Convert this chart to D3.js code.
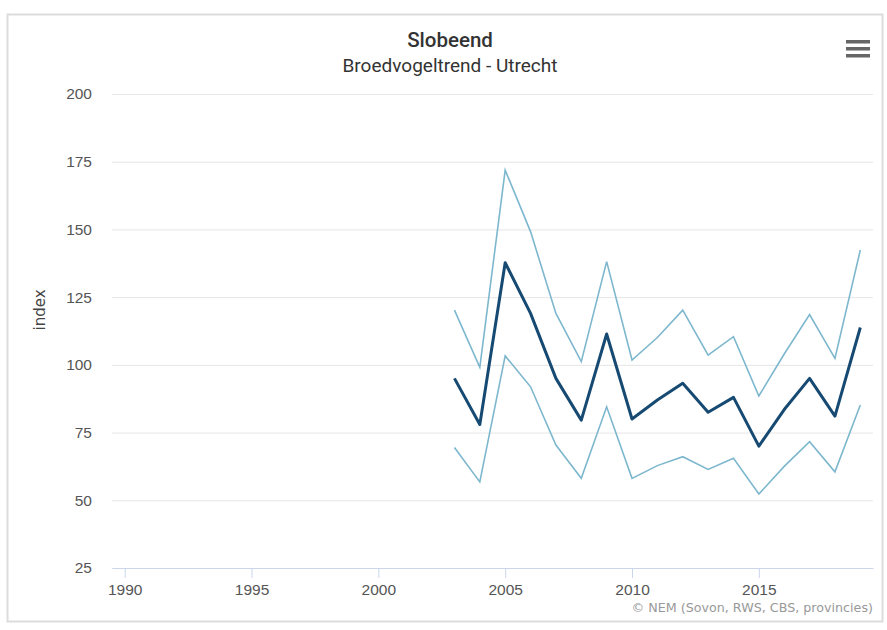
<!DOCTYPE html>
<html>
<head>
<meta charset="utf-8">
<script src="https://cdn.jsdelivr.net/npm/d3@7"></script>
<style>
  body { margin: 0; background: #fff; }
  svg { display: block; font-family: "DejaVu Sans", sans-serif; }
  .axis text { fill: #555; font-size: 15.5px; }
  .axis--y .tick line { stroke: #e6e6e6; }
  .axis--x .tick line, .axis--x .domain { stroke: #ccd6eb; }
</style>
</head>
<body>
<svg id="chart" width="887" height="630"></svg>
<script>
const W = 887, H = 630;
const MARGIN = { top: 94, right: 14, bottom: 62, left: 112 };

// data
const years = [2003, 2004, 2005, 2006, 2007, 2008, 2009, 2010, 2011, 2012, 2013, 2014, 2015, 2016, 2017, 2018, 2019];
const indexValues = [95, 78, 137.7, 119, 95, 79.6, 111.4, 80, 87, 93.2, 82.5, 88, 70, 83.5, 95, 81.1, 113.8];
const upperValues = [120.2, 99.1, 171.9, 149.2, 119, 101.2, 138.1, 101.8, 110.1, 120.2, 103.6, 110.4, 88.5, 104, 118.6, 102.4, 142.4];
const lowerValues = [69.5, 56.8, 103.3, 91.9, 70.4, 58.1, 84.5, 58.1, 62.8, 66.1, 61.4, 65.5, 52.3, 62.5, 71.6, 60.5, 85.2];
const yTicks = [25, 50, 75, 100, 125, 150, 175, 200];
const xTicks = [1990, 1995, 2000, 2005, 2010, 2015];

const width = W - MARGIN.left - MARGIN.right;
const height = 568 - MARGIN.top;

const $svg = d3.select('#chart');

// frame
$svg.append('rect')
  .attr('x', 7.5).attr('y', 14.5)
  .attr('width', 875).attr('height', 607)
  .attr('fill', '#fff')
  .attr('stroke', '#dcdcdc')
  .attr('stroke-width', 2);

const scaleX = d3.scaleLinear().domain([1989.5, 2019.5]).range([0, width]);
const scaleY = d3.scaleLinear().domain([25, 200]).range([height, 0]);

const $g = $svg.append('g').attr('transform', `translate(${MARGIN.left},${MARGIN.top})`);

// y axis with gridlines
const axisY = d3.axisLeft(scaleY)
  .tickValues(yTicks)
  .tickSize(-width)
  .tickPadding(20);

$g.append('g')
  .attr('class', 'axis axis--y')
  .call(axisY)
  .call(g => g.select('.domain').remove());

// x axis
const axisX = d3.axisBottom(scaleX)
  .tickValues(xTicks)
  .tickFormat(d3.format('d'))
  .tickSize(10)
  .tickPadding(6)
  .tickSizeOuter(0);

$g.append('g')
  .attr('class', 'axis axis--x')
  .attr('transform', `translate(0,${height})`)
  .call(axisX);

// lines
const line = d3.line()
  .x((d, i) => scaleX(years[i]))
  .y(d => scaleY(d));

$g.append('path')
  .datum(upperValues)
  .attr('d', line)
  .attr('fill', 'none')
  .attr('stroke', '#7db7ce')
  .attr('stroke-width', 1.6);

$g.append('path')
  .datum(lowerValues)
  .attr('d', line)
  .attr('fill', 'none')
  .attr('stroke', '#7db7ce')
  .attr('stroke-width', 1.6);

$g.append('path')
  .datum(indexValues)
  .attr('d', line)
  .attr('fill', 'none')
  .attr('stroke', '#174a72')
  .attr('stroke-width', 3)
  .attr('stroke-linejoin', 'round');

// y axis title
$svg.append('text')
  .text('index')
  .attr('transform', 'translate(45,310) rotate(-90)')
  .attr('text-anchor', 'middle')
  .attr('fill', '#444')
  .style('font-size', '15px');

// title + subtitle
$svg.append('text')
  .text('Slobeend')
  .attr('x', 450).attr('y', 47)
  .attr('text-anchor', 'middle')
  .attr('fill', '#333')
  .style('font-family', 'Roboto, sans-serif')
  .style('font-size', '20.5px')
  .style('font-weight', 500);

$svg.append('text')
  .text('Broedvogeltrend - Utrecht')
  .attr('x', 450).attr('y', 72)
  .attr('text-anchor', 'middle')
  .attr('fill', '#333')
  .style('font-family', 'Roboto, sans-serif')
  .style('font-size', '19px');

// credits
$svg.append('text')
  .text('© NEM (Sovon, RWS, CBS, provincies)')
  .attr('x', 873).attr('y', 612)
  .attr('text-anchor', 'end')
  .attr('fill', '#999')
  .style('font-size', '12.7px');

// menu icon
const $menu = $svg.append('g').attr('class', 'menu');
[0, 7, 14].forEach(dy => {
  $menu.append('rect')
    .attr('x', 846).attr('y', 40 + dy)
    .attr('width', 24).attr('height', 3.5)
    .attr('fill', '#666');
});
</script>
</body>
</html>
